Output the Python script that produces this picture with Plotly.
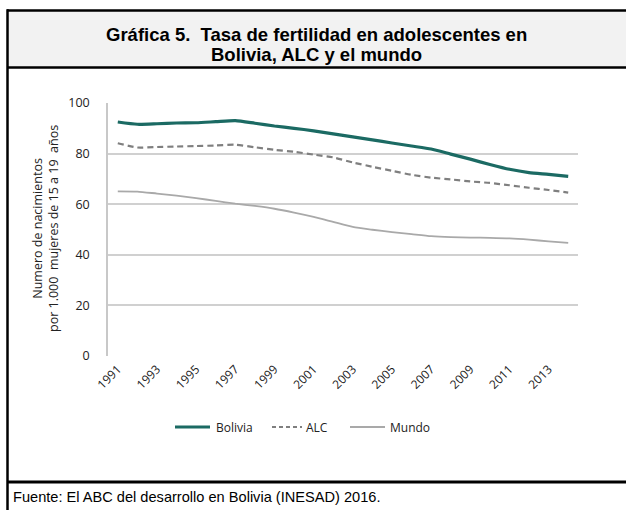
import plotly.graph_objects as go

years = list(range(1991, 2015))
bolivia = [92.5, 91.6, 91.8, 92.1, 92.2, 92.6, 93.0, 92.0, 90.9, 90.0, 89.0, 87.8,
           86.6, 85.4, 84.2, 83.0, 81.8, 79.8, 77.8, 75.7, 73.8, 72.5, 71.8, 71.0]
alc = [84.1, 82.4, 82.6, 82.8, 83.0, 83.2, 83.5, 82.5, 81.5, 80.7, 79.6, 78.5,
       76.5, 74.8, 73.2, 71.6, 70.5, 69.8, 69.0, 68.4, 67.5, 66.5, 65.6, 64.6]
mundo = [65.1, 65.0, 64.2, 63.4, 62.4, 61.3, 60.2, 59.3, 58.2, 56.7, 55.0, 53.0,
         51.0, 49.9, 49.0, 48.2, 47.4, 47.0, 46.8, 46.7, 46.5, 46.0, 45.3, 44.7]
tick_years = list(range(1991, 2014, 2))
y_ticks = [0, 20, 40, 60, 80, 100]
series_names = ["Bolivia", "ALC", "Mundo"]

W, H = 626, 510
L, R, T, B = 108, 578, 103, 356  # plot area in pixels

def px(x):
    return (x - L) / (R - L)

def py(y):
    return (B - y) / (B - T)

styles = [
    dict(color="#1b6a63", width=3.2, dash="solid"),
    dict(color="#7f7f7f", width=2.2, dash="6px,4px"),
    dict(color="#a9a9a9", width=1.8, dash="solid"),
]

fig = go.Figure()
for name, vals, st in zip(series_names, [bolivia, alc, mundo], styles):
    fig.add_trace(go.Scatter(x=years, y=vals, name=name, mode="lines", showlegend=False,
                             line=dict(color=st["color"], width=st["width"], dash=st["dash"],
                                       shape="spline", smoothing=0.6)))

shapes = [
    dict(type="rect", xref="paper", yref="paper", x0=px(7), x1=px(640), y0=py(10), y1=py(67),
         fillcolor="#f2f2f2", line=dict(width=0), layer="below"),
    dict(type="line", xref="paper", yref="paper", x0=px(7), x1=px(640), y0=py(10.5), y1=py(10.5),
         line=dict(color="black", width=2.5)),
    dict(type="line", xref="paper", yref="paper", x0=px(7), x1=px(640), y0=py(67.5), y1=py(67.5),
         line=dict(color="black", width=2.5)),
    dict(type="line", xref="paper", yref="paper", x0=px(7), x1=px(640), y0=py(482), y1=py(482),
         line=dict(color="black", width=3)),
    dict(type="line", xref="paper", yref="paper", x0=px(7.5), x1=px(7.5), y0=py(9.3), y1=py(515),
         line=dict(color="black", width=2.5)),
]

# legend (drawn manually to match the reference spacing)
legend_y = 427
legend_pos = [(175, 210, 214), (272, 302, 304), (350, 385, 388)]
legend_font = dict(family="Open Sans", size=12, color="#222")
annotations = []
for name, st, (x0, x1, xt) in zip(series_names, styles, legend_pos):
    shapes.append(dict(type="line", xref="paper", yref="paper", x0=px(x0), x1=px(x1),
                       y0=py(legend_y), y1=py(legend_y),
                       line=dict(color=st["color"], width=st["width"],
                                 dash="4px,3px" if st["dash"] != "solid" else "solid")))
    annotations.append(dict(text=name, xref="paper", yref="paper", x=px(xt), y=py(legend_y),
                            xanchor="left", yanchor="middle", showarrow=False, font=legend_font))

title_font = dict(family="Liberation Sans, Arial", size=18.5, color="black")
annotations += [
    dict(text="<b>Gráfica 5.  Tasa de fertilidad en adolescentes en</b>",
         xref="paper", yref="paper", x=px(316), y=py(34), xanchor="center", yanchor="middle",
         showarrow=False, font=title_font),
    dict(text="<b>Bolivia, ALC y el mundo</b>",
         xref="paper", yref="paper", x=px(316), y=py(55), xanchor="center", yanchor="middle",
         showarrow=False, font=title_font),
    dict(text="Fuente: El ABC del desarrollo en Bolivia (INESAD) 2016.",
         xref="paper", yref="paper", x=px(11), y=py(497), xanchor="left", yanchor="middle",
         showarrow=False, font=dict(family="Liberation Sans, Arial", size=14.6, color="black")),
    dict(text="Numero de nacimientos<br>por 1.000  mujeres de 15 a 19  años",
         xref="paper", yref="paper", x=px(45), y=py(229), xanchor="center", yanchor="middle",
         showarrow=False, textangle=-90, align="center",
         font=dict(family="Open Sans", size=12.5, color="#222")),
]

fig.update_layout(
    width=W, height=H, autosize=False,
    margin=dict(l=L, r=W - R, t=T, b=H - B, pad=0),
    paper_bgcolor="white", plot_bgcolor="white",
    showlegend=False,
    xaxis=dict(range=[1990.5, 2014.5], tickmode="array", tickvals=tick_years,
               ticktext=[str(y) for y in tick_years], tickangle=-45,
               showgrid=False, zeroline=False, showline=False, ticks="",
               ticklabelstandoff=3,
               tickfont=dict(family="Open Sans", size=12, color="#222")),
    yaxis=dict(range=[0, 100], tickmode="array", tickvals=y_ticks,
               showgrid=True, gridcolor="#d0d0d0", gridwidth=1.5,
               zeroline=False, showline=True, linecolor="#c8c8c8", linewidth=1.5,
               ticks="", ticklabelstandoff=14,
               tickfont=dict(family="Open Sans", size=12.5, color="#222")),
    shapes=shapes,
    annotations=annotations,
)

fig.write_html("out.html", config={"displayModeBar": False},
               post_script="document.body.style.margin='0';document.body.style.overflow='hidden';")
